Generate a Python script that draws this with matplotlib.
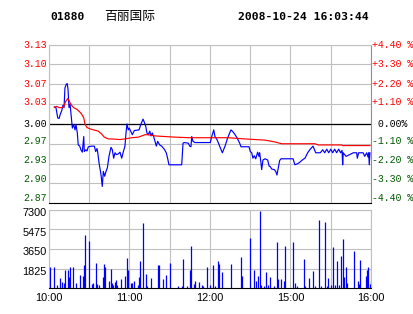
import matplotlib
matplotlib.use("Agg")
import matplotlib.pyplot as plt
import matplotlib.transforms as mtransforms

# 01880 百丽国际 intraday, 2008-10-24
stock_code = "01880"
stock_name = "百丽国际"
stamp = "2008-10-24 16:03:44"
prev_close = 3.00

# trading minutes since 10:00 (12:00-12:30 then 14:30-16:00)
price_t = [4, 5.2, 6.5, 7.5, 8.4, 9.5, 10.4, 11.2, 11.9, 12.9,
           13.6, 14.2, 14.4, 14.9, 15.7, 16.4, 17.4, 18.4, 19.4, 20.1,
           21.1, 21.8, 22.9, 23.8, 24.8, 25.9, 26.3, 27.4, 28.3, 29.3,
           31.8, 33.8, 34.8, 35.8, 36.3, 37.3, 38.8, 39.7, 40.5, 41.5,
           42.5, 43.5, 44.7, 46.2, 47.2, 48.2, 49.2, 50.2, 51.6, 52.9,
           54.2, 55.2, 56.6, 57.4, 58.1, 59.1, 59.8, 60.9, 62.1, 63.6,
           67.1, 68.6, 70.1, 71.0, 72.1, 73.0, 74.0, 75.1, 76.0, 77.0,
           78.0, 79.0, 80.0, 81.0, 82.5, 84.0, 85.9, 87.4, 88.5, 89.4,
           98.9, 99.9, 100.8, 103.8, 104.9, 105.8, 106.4, 107.3, 108.8, 120.2,
           121.3, 122.8, 123.7, 125.2, 127.2, 129.2, 131.2, 133.2, 134.7, 135.6,
           136.6, 138.1, 140.1, 142.1, 143.1, 149.1, 150.0, 151.1, 152.0, 153.0,
           154.1, 155.5, 156.5, 157.0, 158.0, 158.5, 159.5, 161.0, 163.0, 164.0,
           164.9, 166.0, 167.9, 169.0, 169.9, 170.9, 171.9, 172.9, 181.9, 183.3,
           185.4, 186.8, 188.8, 190.8, 192.8, 194.7, 196.8, 197.7, 198.8, 202.2,
           204.0, 205.5, 207.0, 208.5, 210.0, 211.4, 212.9, 214.4, 215.9, 217.4,
           218.4, 218.9, 219.3, 221.4, 226.8, 229.3, 229.8, 230.8, 234.2, 235.3,
           236.8, 237.8, 238.3, 238.7, 239.2]
price = [3.028, 3.027, 3.010, 3.009, 3.016, 3.022, 3.031, 3.027, 3.060, 3.066,
         3.067, 3.057, 3.049, 3.027, 3.033, 3.016, 2.993, 2.999, 2.990, 2.999,
         2.985, 2.965, 2.963, 2.957, 2.953, 2.979, 2.954, 2.957, 2.955, 2.962,
         2.963, 2.963, 2.954, 2.959, 2.953, 2.935, 2.915, 2.896, 2.921, 2.913,
         2.921, 2.927, 2.946, 2.961, 2.957, 2.943, 2.952, 2.949, 2.950, 2.953,
         2.943, 2.952, 2.963, 2.985, 3.000, 2.990, 2.993, 2.988, 2.982, 2.989,
         2.990, 3.000, 3.008, 3.003, 2.996, 2.985, 2.982, 2.988, 2.980, 2.985,
         2.979, 2.971, 2.963, 2.971, 2.965, 2.963, 2.958, 2.952, 2.942, 2.932,
         2.932, 2.968, 2.969, 2.968, 2.963, 2.962, 2.979, 2.971, 2.969, 2.969,
         2.979, 2.990, 2.979, 2.974, 2.963, 2.952, 2.963, 2.977, 2.985, 2.990,
         2.988, 2.984, 2.977, 2.968, 2.962, 2.962, 2.954, 2.952, 2.943, 2.947,
         2.942, 2.953, 2.946, 2.952, 2.935, 2.924, 2.940, 2.942, 2.940, 2.930,
         2.929, 2.925, 2.924, 2.921, 2.915, 2.927, 2.939, 2.942, 2.942, 2.932,
         2.934, 2.936, 2.940, 2.943, 2.952, 2.958, 2.963, 2.958, 2.952, 2.952,
         2.957, 2.952, 2.958, 2.952, 2.958, 2.952, 2.958, 2.952, 2.958, 2.952,
         2.956, 2.932, 2.952, 2.946, 2.952, 2.952, 2.943, 2.952, 2.952, 2.946,
         2.952, 2.945, 2.952, 2.932, 2.952]

avg_t = [4, 6.0, 7.5, 9.5, 11.0, 12.4, 13.9, 14.9, 16.4, 18.4,
         20.9, 22.9, 24.4, 25.9, 26.8, 28.3, 30.3, 33.3, 36.7, 39.3,
         41.2, 44.2, 46.7, 52.9, 56.6, 61.6, 66.6, 69.1, 71.5, 74.0,
         79.0, 86.5, 93.9, 105.1, 113.8, 133.6, 146.1, 153.5, 161.0, 168.4,
         173.4, 185.8, 198.3, 200.7, 217.9, 218.9, 239.2]
avg_price = [3.028, 3.029, 3.027, 3.027, 3.029, 3.037, 3.042, 3.039, 3.032, 3.027,
             3.024, 3.020, 3.016, 3.010, 3.000, 2.994, 2.992, 2.990, 2.988, 2.983,
             2.978, 2.975, 2.975, 2.974, 2.975, 2.977, 2.978, 2.980, 2.982, 2.982,
             2.980, 2.979, 2.978, 2.977, 2.977, 2.977, 2.975, 2.974, 2.973, 2.970,
             2.967, 2.967, 2.967, 2.965, 2.965, 2.964, 2.964]

vol_t = [1, 4, 6, 8, 10, 11, 12, 14, 15, 16,
         18, 20, 23, 25, 26, 27, 30, 32, 33, 35,
         36, 37, 40, 41, 42, 45, 46, 47, 48, 49,
         50, 51, 54, 57, 58, 59, 61, 62, 63, 66,
         67, 68, 70, 72, 73, 76, 81, 82, 85, 87,
         90, 96, 99, 100, 103, 105, 106, 108, 109, 112,
         114, 115, 118, 120, 122, 124, 126, 127, 129, 136,
         143, 144, 150, 153, 154, 156, 157, 158, 160, 162,
         163, 165, 168, 170, 171, 173, 175, 176, 182, 183,
         185, 190, 191, 194, 197, 198, 201, 203, 206, 207,
         208, 210, 212, 213, 215, 216, 218, 219, 220, 221,
         222, 227, 230, 231, 232, 236, 237, 238, 239, 240]
vol = [1940, 1940, 308, 924, 554, 462, 1694, 1694, 1016, 1940,
       1940, 462, 1201, 1140, 2125, 4928, 4374, 400, 524, 2341,
       400, 308, 1016, 2248, 1940, 647, 1756, 462, 308, 616,
       770, 308, 862, 1140, 2803, 1694, 524, 524, 708, 308,
       1016, 2526, 6068, 1324, 216, 924, 2125, 2125, 832, 1201,
       2341, 216, 216, 2680, 216, 1694, 3912, 400, 708, 585,
       308, 216, 1940, 308, 2125, 216, 2526, 2248, 1509, 2248,
       2895, 1140, 4651, 1694, 678, 1140, 7146, 308, 216, 1509,
       308, 1047, 216, 4281, 862, 862, 678, 3912, 4281, 493,
       216, 2710, 216, 955, 1602, 216, 6314, 216, 6129, 216,
       955, 308, 3819, 308, 2526, 308, 2988, 4558, 1047, 1971,
       493, 3450, 678, 400, 2618, 1140, 1694, 1971, 400, 678]

pct_steps = [4.4, 3.3, 2.2, 1.1, 0.0, -1.1, -2.2, -3.3, -4.4]
price_labels = ["3.13", "3.10", "3.07", "3.03", "3.00", "2.97", "2.93", "2.90", "2.87"]
pct_labels = ["+4.40 %", "+3.30 %", "+2.20 %", "+1.10 %", " 0.00%",
              "-1.10 %", "-2.20 %", "-3.30 %", "-4.40 %"]
vol_ticks = [1825, 3650, 5475, 7300]
time_ticks = [0, 60, 120, 180, 240]
time_labels = ["10:00", "11:00", "12:00", "15:00", "16:00"]

RED = "#ff0000"
GREEN = "#005a00"
BLUE = "#0000ff"
GRID = "#c0c0c0"

W, H = 414, 314
fig = plt.figure(figsize=(W / 100, H / 100), dpi=100)
fig.patch.set_facecolor("white")

def px_box(l, t, r, b):
    return [l / W, 1 - b / H, (r - l) / W, (b - t) / H]

ax = fig.add_axes(px_box(49, 44.5, 371, 203.3))
axv = fig.add_axes(px_box(49, 209.5, 371, 288.3))

tick_vals = [prev_close * (1 + p / 100) for p in pct_steps]

# ---- price panel ----
ax.set_xlim(0, 240)
ax.set_ylim(tick_vals[-1], tick_vals[0])
ax.set_xticks(range(0, 241, 30))
ax.set_yticks(tick_vals)
ax.grid(True, color=GRID, lw=0.8)
ax.tick_params(length=0, labelleft=False, labelbottom=False)
for s in ["top", "left"]:
    ax.spines[s].set_color(GRID)
ax.spines["right"].set_color("#909090")
ax.spines["bottom"].set_color("black")
for s in ax.spines.values():
    s.set_linewidth(0.8)
ax.axhline(prev_close, color="black", lw=0.9, zorder=2)

ax.plot(price_t, price, color=BLUE, lw=0.85, zorder=3)
ax.plot(avg_t, avg_price, color=RED, lw=0.85, zorder=4)

nudge = [0, 0, 0, 1.6, 0, 2.3, 3.3, 4.5, 5.0]
ytr = ax.get_yaxis_transform()
for v, p, lab, plab, dy in zip(tick_vals, pct_steps, price_labels, pct_labels, nudge):
    c = RED if p > 0 else ("black" if p == 0 else GREEN)
    ax.text(0, v, lab, transform=mtransforms.offset_copy(ytr, fig=fig, x=-2.5, y=dy, units="dots"),
            ha="right", va="center", color=c, fontsize=7.1, family="Liberation Mono")
    ax.text(1, v, plab, transform=mtransforms.offset_copy(ytr, fig=fig, x=0.8, y=dy, units="dots"),
            ha="left", va="center", color=c, fontsize=7.1, family="Liberation Mono")

# ---- volume panel ----
axv.set_xlim(0, 240)
axv.set_ylim(0, vol_ticks[-1])
axv.set_xticks(range(0, 241, 30))
axv.set_yticks(vol_ticks)
axv.grid(True, color=GRID, lw=0.8)
axv.tick_params(length=0, labelleft=False, labelbottom=False)
for s in ["top", "left", "right"]:
    axv.spines[s].set_color(GRID)
axv.spines["bottom"].set_color("black")
for s in axv.spines.values():
    s.set_linewidth(0.8)
axv.vlines(vol_t, 0, vol, color=BLUE, lw=0.9, zorder=3)

vtr = axv.get_yaxis_transform()
for v in vol_ticks:
    axv.text(0, v, str(v), transform=mtransforms.offset_copy(vtr, fig=fig, x=-2.5, y=-3.5, units="dots"),
             ha="right", va="center", fontsize=7.8, family="Liberation Sans")
xtr = axv.get_xaxis_transform()
for t, lab in zip(time_ticks, time_labels):
    axv.text(t, 0, lab, transform=mtransforms.offset_copy(xtr, fig=fig, y=-9.5, units="dots"),
             ha="center", va="center", fontsize=7.9, family="Liberation Sans")

# ---- header ----
fig.text(50 / W, 1 - 17 / H, stock_code, ha="left", va="center", fontsize=8.2,
         family="DejaVu Sans Mono", weight="bold")
fig.text(104 / W, 1 - 16.5 / H, stock_name, ha="left", va="center", fontsize=9.2,
         family=["Noto Sans CJK SC", "DejaVu Sans"])
fig.text(238 / W, 1 - 17 / H, stamp, ha="left", va="center", fontsize=8.2,
         family="DejaVu Sans Mono", weight="bold")

fig.savefig("out.png", dpi=100)
